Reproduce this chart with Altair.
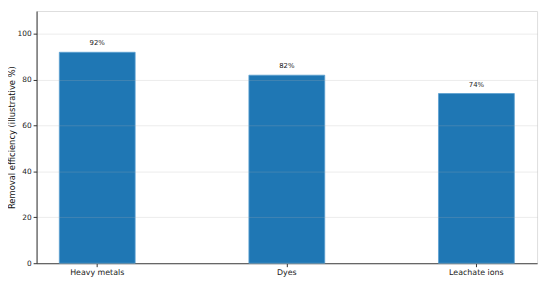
import altair as alt
import pandas as pd

categories = ["Heavy metals", "Dyes", "Leachate ions"]
values = [92, 82, 74]
labels = ["92%", "82%", "74%"]

df = pd.DataFrame({"cat": categories, "val": values, "lab": labels})

font = "DejaVu Sans"

x = alt.X("cat:N", sort=categories, title=None,
          scale=alt.Scale(paddingInner=0.6, paddingOuter=0.12),
          axis=alt.Axis(labelAngle=0, labelFontSize=8, labelColor="#222", labelFont=font,
                        tickColor="#333", tickSize=3.5, domainColor="#333", labelPadding=2,
                        grid=False))
y = alt.Y("val:Q", title="Removal efficiency (illustrative %)",
          scale=alt.Scale(domain=[0, 110], nice=False, zero=True),
          axis=alt.Axis(values=[0, 20, 40, 60, 80, 100], labelFontSize=7.5, labelFont=font,
                        labelColor="#222", tickColor="#333", tickSize=3.5, domainColor="#333",
                        titleFont=font, titleFontSize=8.5, titleFontWeight="normal",
                        titleColor="#111", titlePadding=1, grid=True, gridColor="#b0b0b0",
                        gridOpacity=0.3, gridWidth=0.8, zindex=1, labelPadding=2))

bars = alt.Chart(df).mark_bar(color="#1f77b4", stroke="#5a9fd0", strokeWidth=0.8).encode(x=x, y=y)

text = alt.Chart(df).mark_text(font=font, fontSize=7, color="#222", baseline="bottom", dy=-6).encode(
    x=alt.X("cat:N", sort=categories), y=alt.Y("val:Q"), text="lab:N")

chart = (bars + text).properties(
    width=508, height=256,
    autosize=alt.AutoSizeParams(type="none"),
    padding={"left": 29, "top": 1, "right": 5, "bottom": 16},
).configure_view(stroke="#333", strokeWidth=1).configure(background="white")

chart.save("out.html", embed_options={"renderer": "svg", "actions": False})
